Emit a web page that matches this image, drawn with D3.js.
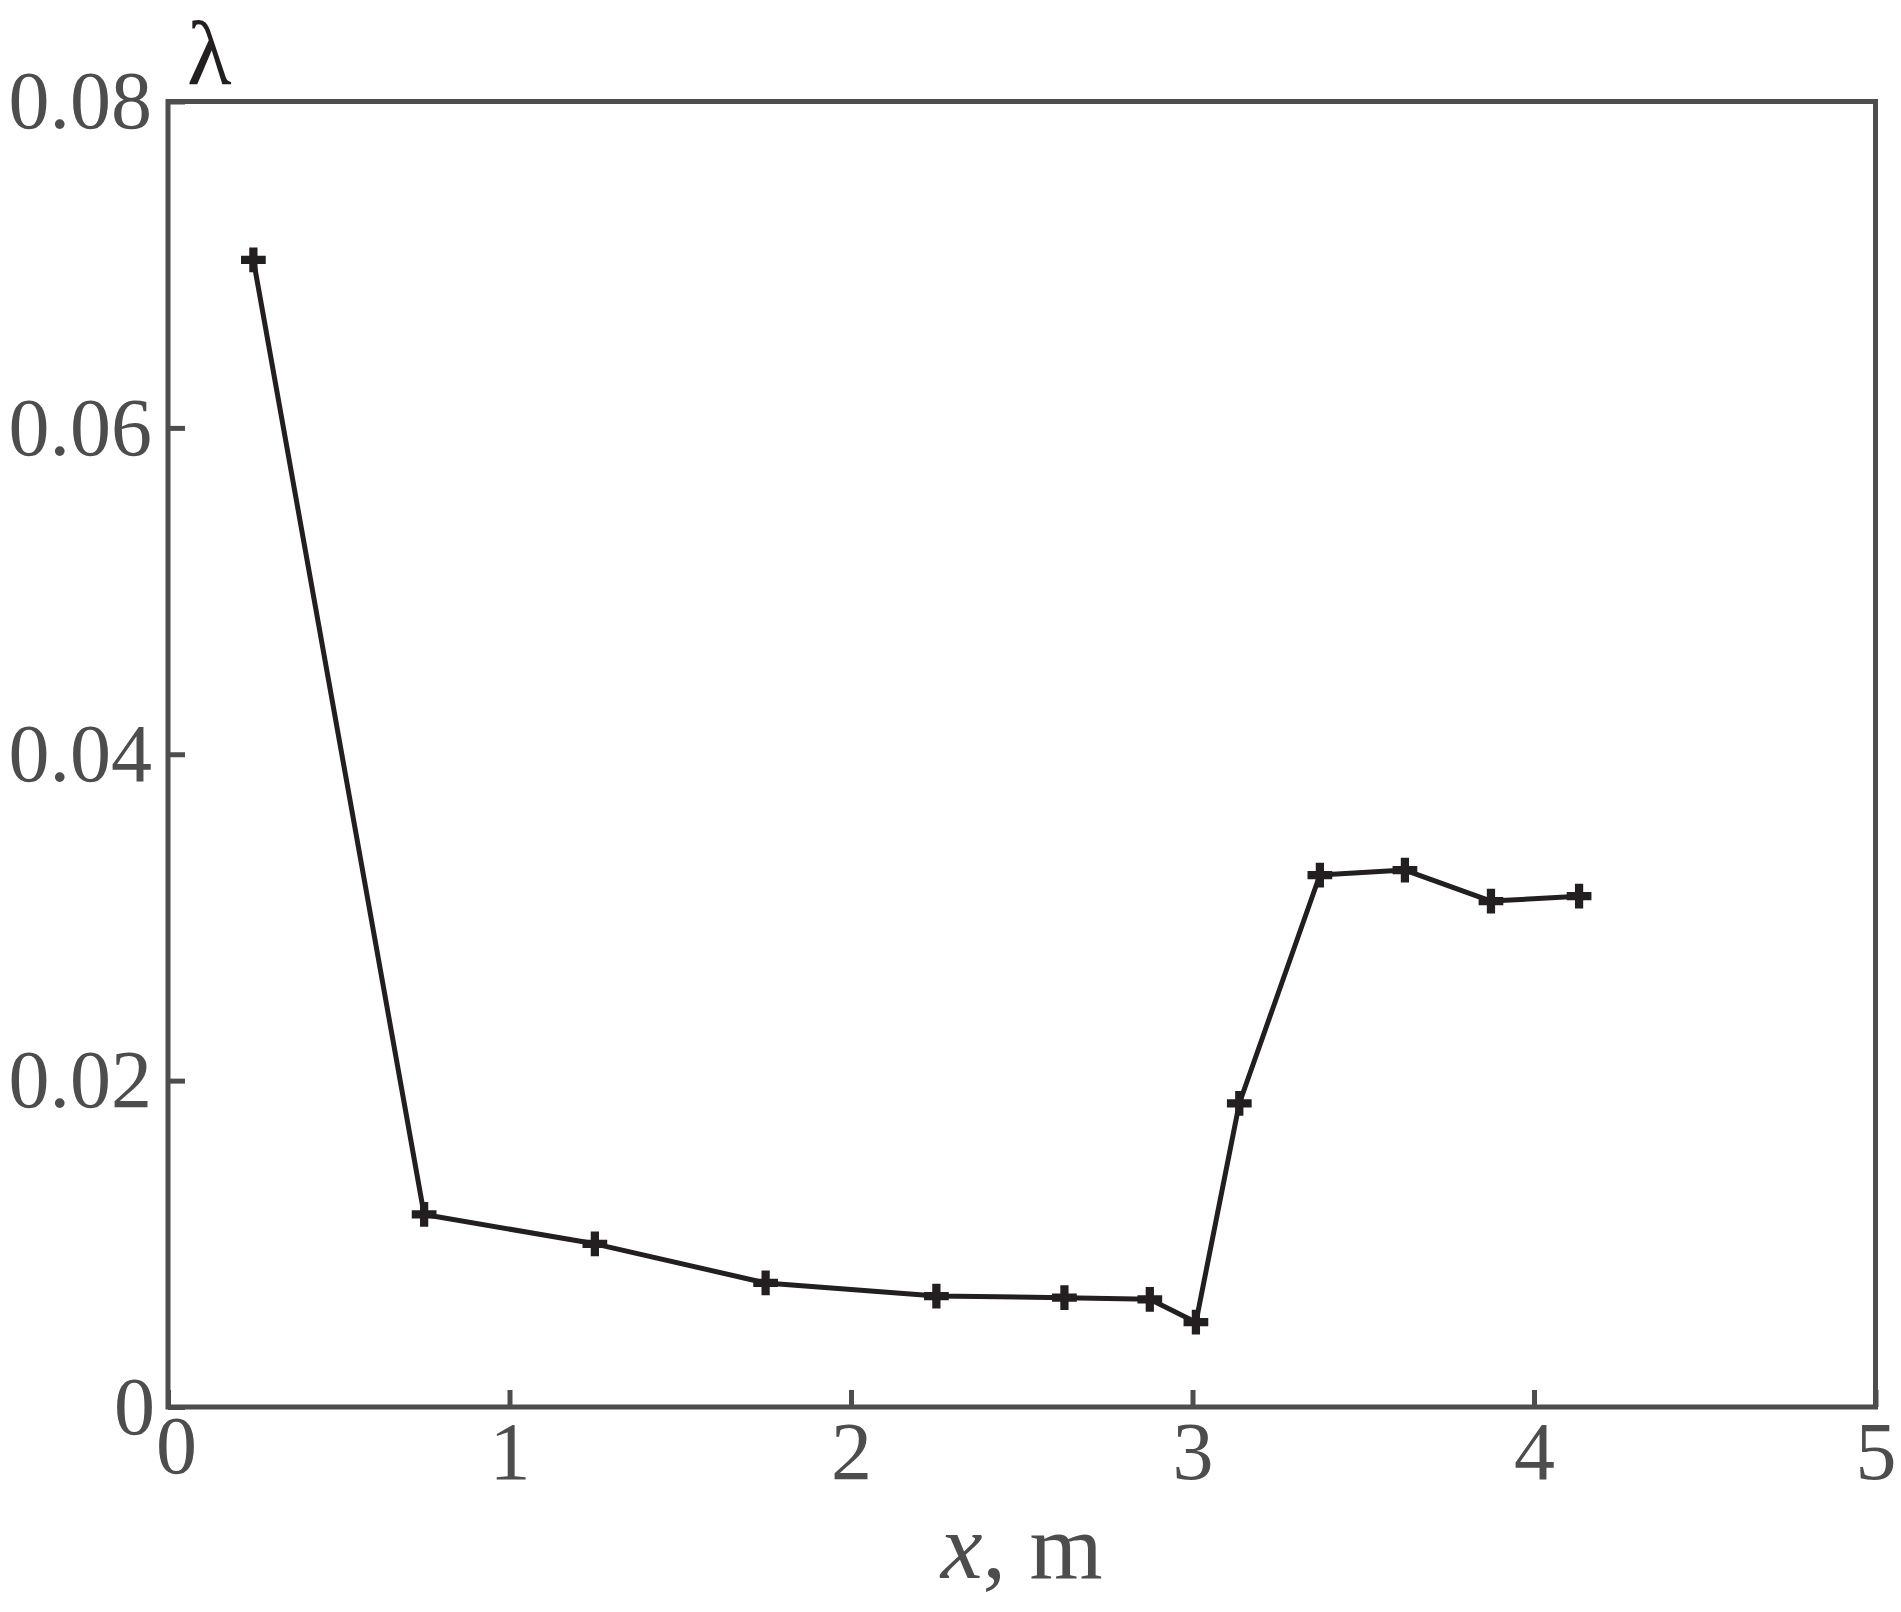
<!DOCTYPE html>
<html>
<head>
<meta charset="utf-8">
<script src="https://cdn.jsdelivr.net/npm/d3@7"></script>
<style>
  html, body { margin: 0; padding: 0; background: #ffffff; }
  svg { display: block; }
</style>
</head>
<body>
<svg id="chart" width="1901" height="1612"></svg>
<script>
// Data
const xValues = [0.25, 0.75, 1.25, 1.75, 2.25, 2.625, 2.875, 3.01, 3.137, 3.373, 3.622, 3.874, 4.132];
const lambdaValues = [0.0703, 0.0118, 0.0100, 0.0076, 0.0068, 0.0067, 0.0066, 0.0052, 0.0186, 0.0326, 0.0329, 0.0310, 0.0313];
const xTicks = [0, 1, 2, 3, 4, 5];
const yTicks = [0, 0.02, 0.04, 0.06, 0.08];
const yTickLabels = ["0", "0.02", "0.04", "0.06", "0.08"];
const xTitleItalic = "x";
const xTitleRest = ", m";
const yTitle = "λ";

(function () {
const svg = d3.select("#chart");
const pLeft = 168, pRight = 1875.5, pTop = 101.5, pBottom = 1407;
const axisColor = "#4d4d4d";
const dataColor = "#231f20";
const fontFamily = "'Liberation Serif', 'Times New Roman', serif";

const x = d3.scaleLinear().domain([0, 5]).range([pLeft, pRight]);
const y = d3.scaleLinear().domain([0, 0.08]).range([pBottom, pTop]);

// X axis (ticks inward)
const gx = svg.append("g")
  .attr("transform", `translate(0,${pBottom})`)
  .call(d3.axisBottom(x).tickValues(xTicks).tickFormat(d3.format("d"))
    .tickSizeInner(-17).tickSizeOuter(0).tickPadding(14));
gx.select(".domain").remove();
gx.selectAll(".tick line").attr("stroke", axisColor).attr("stroke-width", 5);
gx.selectAll(".tick text")
  .attr("fill", axisColor)
  .style("font-family", fontFamily)
  .style("font-size", "82px");
gx.selectAll(".tick").filter(d => d === 0).select("text")
  .attr("dx", 8).attr("y", 8);

// Y axis (ticks inward)
const gy = svg.append("g")
  .attr("transform", `translate(${pLeft},0)`)
  .call(d3.axisLeft(y).tickValues(yTicks).tickFormat((d, i) => yTickLabels[i])
    .tickSizeInner(-17).tickSizeOuter(0).tickPadding(16));
gy.select(".domain").remove();
gy.selectAll(".tick line").attr("stroke", axisColor).attr("stroke-width", 5);
gy.selectAll(".tick text")
  .attr("fill", axisColor)
  .style("font-family", fontFamily)
  .style("font-size", "82px");
gy.selectAll(".tick").filter(d => d === 0).select("text").attr("dx", 3);

// Frame
svg.append("rect")
  .attr("x", pLeft).attr("y", pTop)
  .attr("width", pRight - pLeft).attr("height", pBottom - pTop)
  .attr("fill", "none")
  .attr("stroke", axisColor)
  .attr("stroke-width", 5);

// Data line
const pts = xValues.map((v, i) => [v, lambdaValues[i]]);
svg.append("path")
  .datum(pts)
  .attr("fill", "none")
  .attr("stroke", dataColor)
  .attr("stroke-width", 5)
  .attr("stroke-linejoin", "round")
  .attr("d", d3.line().x(d => x(d[0])).y(d => y(d[1])));

// Plus markers
svg.append("g").selectAll("path")
  .data(pts)
  .join("path")
  .attr("transform", d => `translate(${x(d[0])},${y(d[1])})`)
  .attr("fill", dataColor)
  .attr("d", d3.symbol().type(d3.symbolCross).size(340)());

// Axis titles
const xt = svg.append("text")
  .attr("x", (pLeft + pRight) / 2)
  .attr("y", 1578)
  .attr("text-anchor", "middle")
  .attr("fill", axisColor)
  .style("font-family", fontFamily)
  .style("font-size", "94px");
xt.append("tspan").style("font-style", "italic").text(xTitleItalic);
xt.append("tspan").text(xTitleRest);

svg.append("text")
  .attr("x", 187)
  .attr("y", 84)
  .attr("fill", dataColor)
  .style("font-family", fontFamily)
  .style("font-size", "92px")
  .text(yTitle);
})();
</script>
</body>
</html>
